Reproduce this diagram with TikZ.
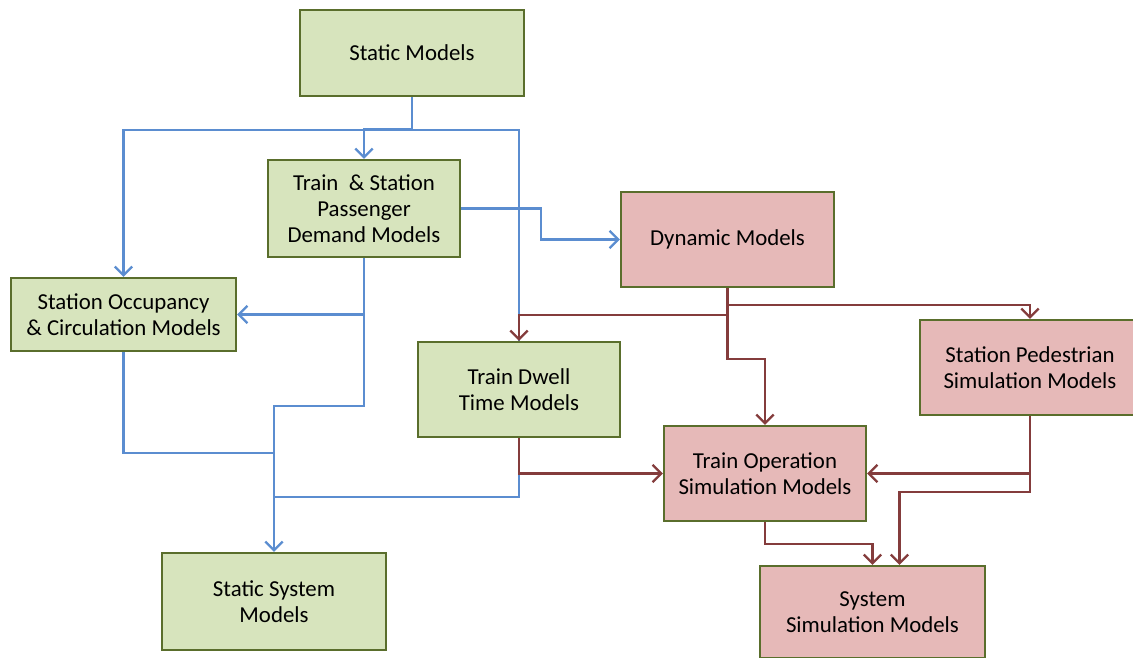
\documentclass[tikz,border=0pt]{standalone}
\usepackage{fontspec}
\setmainfont{Carlito}
\usepackage{xcolor}
\usetikzlibrary{positioning, arrows.meta}
\definecolor{statfill}{HTML}{D7E4BD}
\definecolor{dynfill}{HTML}{E6B9B8}
\definecolor{boxedge}{HTML}{5A6E2C}
\definecolor{blueline}{HTML}{5B8DD0}
\definecolor{redline}{HTML}{843C3C}

\begin{document}
\begin{tikzpicture}[
  x=0.02cm, y=-0.02cm,
  model/.style={draw=boxedge, line width=1.2pt, align=center,
                font=\fontsize{13}{14.7}\selectfont, inner sep=2pt},
  static/.style={model, fill=statfill},
  dynamic/.style={model, fill=dynfill},
  arr/.style={-{Straight Barb[length=5pt, width=10pt]}},
  bline/.style={draw=blueline, line width=1.3pt},
  rline/.style={draw=redline, line width=1.3pt}
]
  \clip (0,0) rectangle (1133,658);
  \node[static, minimum width=4.48cm, minimum height=1.72cm] (stat) at (412,53) {Static Models};
  \node[static, minimum width=3.84cm, minimum height=1.94cm] (demand) at (364,208.5) {Train~ \& Station\\Passenger\\Demand Models};
  \node[dynamic, minimum width=4.26cm, minimum height=1.9cm] (dyn) at (727.5,239.5) {Dynamic Models};
  \node[static, minimum width=4.5cm, minimum height=1.46cm] (occup) at (123.5,314.5) {Station Occupancy\\\& Circulation Models};
  \node[static, minimum width=4.04cm, minimum height=1.9cm] (dwell) at (519,389.5) {Train Dwell\\Time Models};
  \node[dynamic, minimum width=4.4cm, minimum height=1.9cm] (ped) at (1030,367.5) {Station Pedestrian\\Simulation Models};
  \node[dynamic, minimum width=4.04cm, minimum height=1.9cm] (trainop) at (765,473.5) {Train Operation\\Simulation Models};
  \node[static, minimum width=4.48cm, minimum height=1.94cm] (ssys) at (274,601.5) {Static System\\Models};
  \node[dynamic, minimum width=4.5cm, minimum height=1.84cm] (sysim) at (872.5,612) {System\\Simulation Models};

  \coordinate (topbus) at (412,130);
  \coordinate (lbus) at (274,453);
  \coordinate (bbus) at (274,497);

  \draw[bline] (stat.south) -- (topbus);
  \draw[bline, arr] (stat.south) -- ++(0,32) -| (demand.north);
  \draw[bline, arr] (topbus) -| (occup.north);
  \draw[bline] (topbus) -| (dwell.north);
  \draw[bline, arr] (demand.south |- occup.east) -- (occup.east);
  \draw[bline, arr] (demand.south) -- ++(0,148) -| (ssys.north);
  \draw[bline] (occup.south) |- (lbus);
  \draw[bline] (dwell.south) |- (bbus);
  \draw[bline, arr] (demand.east) -- ++(80,0) |- (dyn.west);

  \draw[rline, arr] (dyn.south) -- ++(0,17) -| (ped.north);
  \draw[rline, arr] (dyn.south) ++(0,27) -| (dwell.north);
  \draw[rline, arr] (dyn.south) -- ++(0,71) -| (trainop.north);
  \draw[rline, arr] (dwell.south) |- (trainop.west);
  \draw[rline, arr] (ped.south) |- (trainop.east);
  \draw[rline, arr] (ped.south) -- ++(0,76) -| ([xshift=0.54cm]sysim.north);
  \draw[rline, arr] (trainop.south) -- ++(0,22) -| (sysim.north);
\end{tikzpicture}
\end{document}
